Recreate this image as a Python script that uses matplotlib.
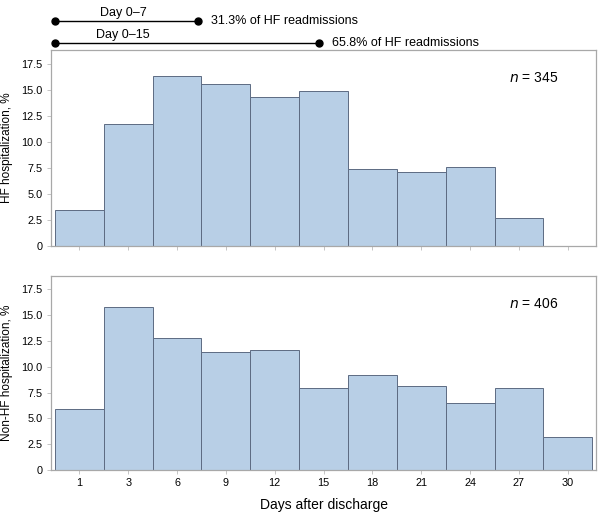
import matplotlib

matplotlib.use("Agg")

import matplotlib.pyplot as plt
import numpy as np
from matplotlib.ticker import FuncFormatter

day_labels = ["1", "3", "6", "9", "12", "15", "18", "21", "24", "27", "30"]
hf_pct = [3.5, 11.7, 16.3, 15.5, 14.3, 14.9, 7.4, 7.1, 7.6, 2.7, 0.0]
non_hf_pct = [5.9, 15.8, 12.8, 11.4, 11.6, 7.9, 9.2, 8.1, 6.5, 7.9, 3.2]
n_labels = ["345", "406"]
panel_ylabels = ["HF hospitalization, %", "Non-HF hospitalization, %"]

# cumulative windows shown above the top panel (end position on the bin axis)
window_labels = ["Day 0\u20137", "Day 0\u201315"]
window_ends = [2.42, 4.9]
window_shares = ["31.3% of HF readmissions", "65.8% of HF readmissions"]

BAR_FACE = "#b8cfe6"
BAR_EDGE = "#5d6b82"
SPINE = "#a8a8a8"

plt.rcParams["font.family"] = ["Liberation Sans", "DejaVu Sans"]

fig = plt.figure(figsize=(6.04, 5.23), dpi=100)
ax_top = fig.add_axes([0.0844, 0.5296, 0.9026, 0.3748])
ax_bot = fig.add_axes([0.0844, 0.1013, 0.9026, 0.3710])

positions = np.arange(len(day_labels))


def zero_fmt(value, _pos):
    return "0" if value == 0 else f"{value:.1f}"


for axis, values, ylabel, n in zip(
    [ax_top, ax_bot], [hf_pct, non_hf_pct], panel_ylabels, n_labels
):
    axis.bar(
        positions,
        values,
        width=1.0,
        color=BAR_FACE,
        edgecolor=BAR_EDGE,
        linewidth=0.7,
    )
    axis.set_xlim(-0.58, len(day_labels) - 0.42)
    axis.set_ylim(0, 18.8)
    axis.set_yticks(np.arange(0, 17.6, 2.5))
    axis.yaxis.set_major_formatter(FuncFormatter(zero_fmt))
    axis.set_xticks(positions)
    for spine in axis.spines.values():
        spine.set_color(SPINE)
        spine.set_linewidth(0.9)
    axis.tick_params(
        axis="both", length=3, width=0.6, color="#bbbbbb", labelsize=7.8, pad=3
    )
    axis.set_ylabel(ylabel, fontsize=8.5, labelpad=6)
    axis.text(
        0.885,
        0.855,
        f"$n$ = {n}",
        transform=axis.transAxes,
        fontsize=10,
        ha="center",
        va="center",
    )

ax_top.set_xticklabels([])
ax_bot.set_xticklabels(day_labels)
ax_bot.set_xlabel("Days after discharge", fontsize=10, labelpad=7)

# window brackets drawn in data x, axes-fraction y
trans = ax_top.get_xaxis_transform()
for label, end, share, y in zip(window_labels, window_ends, window_shares, [1.148, 1.036]):
    ax_top.plot(
        [-0.5, end],
        [y, y],
        color="black",
        linewidth=1.0,
        marker="o",
        markersize=5,
        transform=trans,
        clip_on=False,
    )
    ax_top.text(
        0.9,
        y + 0.012,
        label,
        transform=trans,
        fontsize=9,
        ha="center",
        va="bottom",
    )
    ax_top.text(
        end + 0.28,
        y,
        share,
        transform=trans,
        fontsize=9,
        ha="left",
        va="center",
    )

fig.savefig("out.png", dpi=100)
